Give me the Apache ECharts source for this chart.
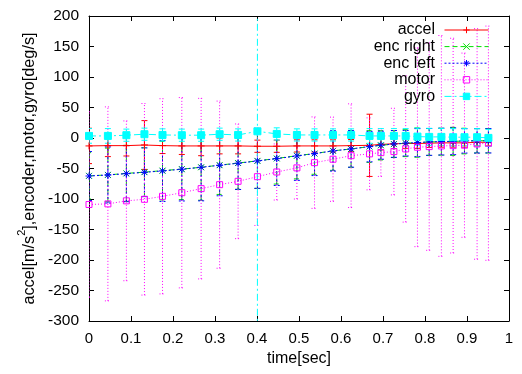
<!DOCTYPE html>
<html>
<head>
<meta charset="utf-8">
<script src="https://cdn.jsdelivr.net/npm/echarts@6/dist/echarts.min.js"></script>
<style>
  html, body { margin: 0; padding: 0; background: #fff; }
  #chart { width: 522px; height: 374px; }
</style>
</head>
<body>
<div id="chart"></div>
<script>
const FONT = '"Liberation Sans", Arial, sans-serif';

const times = [0, 0.045, 0.089, 0.132, 0.175, 0.221, 0.267, 0.311, 0.355, 0.401, 0.447, 0.495, 0.537,
  0.581, 0.624, 0.668, 0.695, 0.726, 0.754, 0.782, 0.810, 0.839, 0.867, 0.894, 0.924, 0.951];

const accel = [-13, -12.5, -12.5, -11.5, -12.5, -13, -13, -13, -13, -13.5, -13.5, -13, -13,
  -13, -12.5, -12, -10.5, -9.5, -9, -9, -8.5, -8, -8, -8, -7, -7];
const accelErr = [29, 18, 17, 40, 13, 14, 16, 13, 13, 10, 10, 10, 10,
  10, 10, 51, 9, 8, 8, 8, 7, 7, 7, 7, 6, 6];

const encRight = [-62, -60.5, -58, -56, -53.5, -51, -48, -44.5, -41, -37.5, -33.5, -29, -25.5,
  -21, -18, -14, -12, -10, -8.5, -7.5, -6.5, -6, -5.5, -5, -4.5, -4.5];
const encRightErr = [38, 44, 46, 40, 48, 50, 54, 48, 43, 45, 42, 38, 34,
  32, 30, 26, 24, 22, 22, 24, 22, 22, 23, 21, 20, 20];

const encLeft = [-62.3, -60.6, -58.5, -56.2, -54, -51.2, -48, -44.7, -41.4, -37.6, -33.8, -29.4, -25.6,
  -21.2, -17.9, -14.1, -11.8, -9.7, -8.5, -7.6, -6.4, -5.9, -5.3, -4.7, -4.7, -4.5];
const encLeftErr = [40, 46, 46, 40, 50, 52, 55, 50, 43, 45, 44, 40, 36,
  33, 30, 25, 23, 22, 21, 23, 22, 22, 22, 20, 20, 20];

const motor = [-109, -108, -103, -100.5, -95.6, -89.7, -83, -76.5, -71, -63.4, -55.7, -49, -40.4,
  -34.8, -29, -26, -24, -22.3, -17.9, -15.1, -14.1, -13, -12.5, -11.8, -9.7, -8.5];
const motorErr = [152, 159, 131, 157, 160, 156, 148, 137, 94, 80, 46, 51, 75,
  69, 85, 59, 39, 71, 120, 163, 170, 181, 176, 151, 189, 192];

const gyro = [3.4, 3.4, 4.6, 6.2, 5, 4.6, 4.6, 6.2, 5, 11, 6.7, 5, 5,
  5, 5, 3.4, 3.4, 3.4, 3.4, 2.3, 1.8, 1.8, 1.3, 1.3, 1.3, 0.2];
const gyroErr = [12, 12, 10, 10, 10, 10, 10, 10, 10, 450, 10, 10, 10,
  10, 10, 12, 12, 12, 12, 14, 14, 14, 14, 14, 14, 14];

const names = ['accel', 'enc right', 'enc left', 'motor', 'gyro'];

const PLUS = 'path://M0,5L10,5M5,0L5,10';
const CROSS = 'path://M0,0L10,10M10,0L0,10';
const STAR = 'path://M0,5L10,5M5,0L5,10M1.5,1.5L8.5,8.5M8.5,1.5L1.5,8.5';
const BOX = 'path://M0,0L10,0L10,10L0,10Z';

function errorBars(name, color, dash, values, errs) {
  return {
    type: 'custom',
    name: name + ' err',
    clip: true,
    silent: true,
    data: times.map((t, i) => [t, values[i] - errs[i], values[i] + errs[i]]),
    encode: { x: 0, y: [1, 2] },
    renderItem: function (params, api) {
      const x = api.coord([api.value(0), 0])[0];
      const lo = api.coord([api.value(0), api.value(1)])[1];
      const hi = api.coord([api.value(0), api.value(2)])[1];
      const w = 3;
      const st = { stroke: color, lineWidth: 1, lineDash: dash, fill: null };
      return {
        type: 'group',
        children: [
          { type: 'line', shape: { x1: x, y1: lo, x2: x, y2: hi }, style: st },
          { type: 'line', shape: { x1: x - w, y1: lo, x2: x + w, y2: lo }, style: st },
          { type: 'line', shape: { x1: x - w, y1: hi, x2: x + w, y2: hi }, style: st }
        ]
      };
    }
  };
}

function line(name, color, dash, values, symbol, size, fill) {
  return {
    type: 'line',
    name: name,
    data: times.map((t, i) => [t, values[i]]),
    symbol: symbol,
    symbolSize: size,
    showSymbol: true,
    animation: false,
    lineStyle: { color: color, width: 1, type: dash },
    itemStyle: { color: fill || color, borderColor: color, borderWidth: 1 },
    emphasis: { disabled: true }
  };
}

const axisLine = { show: true, onZero: false, lineStyle: { color: '#000', width: 1 } };
const axisTick = { show: true, inside: true, length: 5, lineStyle: { color: '#000' } };

const option = {
  animation: false,
  backgroundColor: '#fff',
  textStyle: { fontFamily: FONT },
  grid: { left: 89, right: 13, top: 16, bottom: 53 },
  legend: {
    orient: 'vertical',
    right: 33,
    top: 22,
    align: 'right',
    padding: 0,
    itemGap: 0.6,
    itemWidth: 44,
    itemHeight: 8,
    data: names,
    formatter: n => n + ' ',
    itemStyle: { borderWidth: 1 },
    lineStyle: { width: 1 },
    textStyle: { fontSize: 16, color: '#000', fontFamily: FONT }
  },
  xAxis: [{
    type: 'value', min: 0, max: 1, interval: 0.1, position: 'bottom',
    axisLine: axisLine, axisTick: axisTick, splitLine: { show: false },
    axisLabel: { fontSize: 15, color: '#000', margin: 10, fontFamily: FONT },
    name: 'time[sec]', nameLocation: 'middle', nameGap: 28,
    nameTextStyle: { fontSize: 16, color: '#000', fontFamily: FONT }
  }, {
    type: 'value', min: 0, max: 1, interval: 0.1, position: 'top',
    axisLine: axisLine, axisTick: axisTick, splitLine: { show: false },
    axisLabel: { show: false }
  }],
  yAxis: [{
    type: 'value', min: -300, max: 200, interval: 50, position: 'left',
    axisLine: axisLine, axisTick: axisTick, splitLine: { show: false },
    axisLabel: { fontSize: 15.5, color: '#000', margin: 10, fontFamily: FONT },
    name: '{t|accel[m/s}{s|2}{t|],encoder,motor,gyro[deg/s]}',
    nameLocation: 'middle', nameGap: 44,
    nameTextStyle: {
      color: '#000', fontFamily: FONT,
      rich: {
        t: { fontSize: 16.3, color: '#000', fontFamily: FONT, verticalAlign: 'bottom' },
        s: { fontSize: 11, color: '#000', fontFamily: FONT, verticalAlign: 'bottom', padding: [0, 0, 10, 0] }
      }
    }
  }, {
    type: 'value', min: -300, max: 200, interval: 50, position: 'right',
    axisLine: axisLine, axisTick: axisTick, splitLine: { show: false },
    axisLabel: { show: false }
  }],
  series: [
    errorBars('accel', '#ff0000', null, accel, accelErr),
    line('accel', '#ff0000', 'solid', accel, PLUS, 7),
    errorBars('enc right', '#00e000', [5, 3], encRight, encRightErr),
    line('enc right', '#00e000', [5, 3], encRight, CROSS, 6),
    errorBars('enc left', '#0000ff', [2, 2], encLeft, encLeftErr),
    line('enc left', '#0000ff', [2, 2], encLeft, STAR, 7),
    errorBars('motor', '#ff00ff', [1, 2], motor, motorErr),
    line('motor', '#ff00ff', [1, 2], motor, BOX, 6, 'rgba(255,255,255,0)'),
    errorBars('gyro', '#00ffff', [7, 3, 2, 3], gyro, gyroErr),
    line('gyro', '#00ffff', [7, 3, 2, 3], gyro, 'rect', 7)
  ]
};

const chart = echarts.init(document.getElementById('chart'), null, { renderer: 'canvas' });
chart.setOption(option);
</script>
</body>
</html>
